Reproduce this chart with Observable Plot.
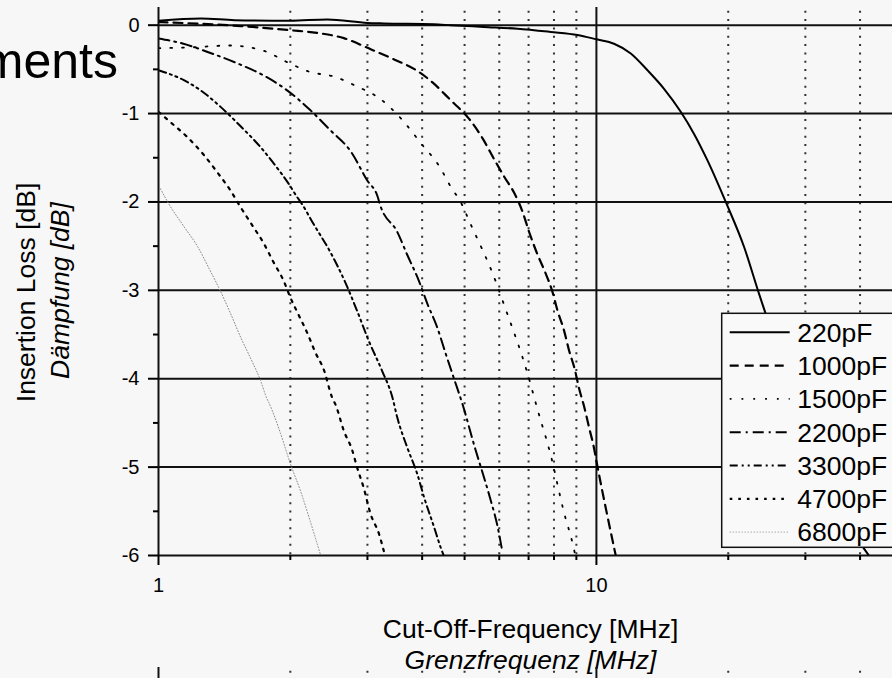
<!DOCTYPE html>
<html><head><meta charset="utf-8">
<script src="https://cdn.jsdelivr.net/npm/d3@7"></script>
<script src="https://cdn.jsdelivr.net/npm/@observablehq/plot@0.6"></script>
<style>
html,body{margin:0;padding:0;background:#f7f7f7;overflow:hidden;width:892px;height:678px;}
#wrap{position:relative;width:892px;height:678px;overflow:hidden;}
</style></head><body><div id="wrap"></div>
<script>
const FONT = "'Liberation Sans', Arial, Helvetica, sans-serif";

// ---- data ----
const seriesNames = ["220pF", "1000pF", "1500pF", "2200pF", "3300pF", "4700pF", "6800pF"];

const freq220 = [1.0, 1.25, 1.49, 2.0, 2.43, 3.0, 3.27, 4.25, 4.65, 5.53, 6.6, 7.86, 9.05, 10.0, 10.97, 11.98, 13.08, 14.27, 15.58, 16.71, 17.93, 19.74, 21.74, 23.52, 40.8, 41.9];
const loss220 = [0.05, 0.075, 0.057, 0.05, 0.065, 0.026, 0.02, 0.01, 0.0, -0.02, -0.04, -0.076, -0.11, -0.16, -0.21, -0.32, -0.51, -0.72, -0.98, -1.23, -1.53, -2.0, -2.51, -3.04, -5.92, -6.0];

const freq1000 = [1.0, 1.54, 2.0, 2.30, 2.65, 3.06, 3.46, 3.88, 4.23, 4.65, 5.12, 5.51, 5.83, 6.15, 6.51, 6.78, 7.02, 7.33, 7.66, 7.94, 8.15, 8.43, 8.66, 8.92, 9.13, 9.38, 9.62, 9.87, 10.0, 11.07];
const loss1000 = [0.035, -0.01, -0.057, -0.087, -0.147, -0.275, -0.39, -0.51, -0.65, -0.85, -1.06, -1.29, -1.51, -1.71, -1.91, -2.11, -2.34, -2.59, -2.81, -3.02, -3.23, -3.45, -3.68, -3.89, -4.11, -4.32, -4.55, -4.78, -4.93, -6.0];

const freq1500 = [1.0, 1.20, 1.45, 1.74, 1.97, 2.22, 2.51, 2.83, 3.20, 3.60, 3.98, 4.37, 4.69, 4.86, 5.16, 5.89, 6.15, 6.96, 7.33, 7.86, 8.43, 8.86, 8.95];
const loss1500 = [-0.26, -0.25, -0.23, -0.29, -0.42, -0.53, -0.58, -0.69, -0.83, -1.07, -1.34, -1.59, -1.86, -1.97, -2.25, -2.90, -3.16, -3.94, -4.34, -4.86, -5.51, -5.90, -6.0];

const freq2200 = [1.0, 1.14, 1.29, 1.51, 1.74, 1.97, 2.22, 2.47, 2.75, 3.0, 3.16, 3.21, 3.51, 3.70, 3.93, 4.11, 4.33, 4.53, 4.73, 4.94, 5.30, 5.54, 5.74, 5.94, 6.10];
const loss2200 = [-0.15, -0.21, -0.30, -0.43, -0.57, -0.74, -0.96, -1.19, -1.43, -1.76, -1.93, -2.04, -2.34, -2.60, -2.89, -3.15, -3.42, -3.72, -4.0, -4.28, -4.81, -5.12, -5.38, -5.66, -5.96];

const freq3300 = [1.0, 1.14, 1.25, 1.39, 1.53, 1.71, 1.85, 1.98, 2.07, 2.13, 2.26, 2.47, 2.67, 2.84, 3.02, 3.24, 3.42, 3.51, 3.70, 3.90, 4.04, 4.26, 4.41, 4.48];
const loss3300 = [-0.51, -0.62, -0.74, -0.93, -1.13, -1.38, -1.59, -1.79, -1.94, -2.03, -2.25, -2.57, -2.91, -3.23, -3.57, -3.91, -4.21, -4.44, -4.78, -5.08, -5.34, -5.68, -5.91, -6.0];

const freq4700 = [1.0, 1.055, 1.16, 1.27, 1.36, 1.46, 1.54, 1.64, 1.74, 1.83, 1.93, 2.0, 2.09, 2.19, 2.28, 2.39, 2.49, 2.54, 2.65, 2.77, 2.84, 2.94, 3.05, 3.19, 3.27];
const loss4700 = [-0.98, -1.08, -1.26, -1.47, -1.66, -1.87, -2.06, -2.27, -2.47, -2.68, -2.89, -3.08, -3.28, -3.49, -3.70, -3.91, -4.21, -4.30, -4.59, -4.81, -5.0, -5.23, -5.53, -5.76, -5.95];

const freq6800 = [1.01, 1.055, 1.14, 1.23, 1.31, 1.37, 1.46, 1.54, 1.62, 1.71, 1.77, 1.79, 1.90, 2.0, 2.11, 2.22, 2.34];
const loss6800 = [-1.85, -2.02, -2.27, -2.51, -2.77, -2.96, -3.26, -3.53, -3.76, -4.02, -4.23, -4.28, -4.62, -4.96, -5.27, -5.61, -5.98];

const yMajor = [0, -1, -2, -3, -4, -5, -6];
const yTickLabels = ["0", "-1", "-2", "-3", "-4", "-5", "-6"];
const yMinor = [-0.5, -1.5, -2.5, -3.5, -4.5, -5.5];
const xMajor = [1, 10];
const xTickLabels = ["1", "10"];
const xMinor = [2, 3, 4, 5, 6, 7, 8, 9, 20, 30, 40, 50];
const xTitle = "Cut-Off-Frequency [MHz]";
const xTitleDe = "Grenzfrequenz [MHz]";
const yTitle = "Insertion Loss [dB]";
const yTitleDe = "Dämpfung [dB]";
const slideText = "ments";
const nextChartTicks = [0];
const nextChartLabels = ["0"];

// ---- styles (kept apart from data) ----
const lineStyle = {
  "220pF":  {dash: undefined,        width: 2,   color: "#000"},
  "1000pF": {dash: "9,6",            width: 2.2, color: "#000"},
  "1500pF": {dash: "1.8,10",         width: 1.8, color: "#000"},
  "2200pF": {dash: "11,5,2,5",       width: 2,   color: "#000"},
  "3300pF": {dash: "8,4,2,4,2,4",    width: 2,   color: "#000"},
  "4700pF": {dash: "2.6,6",          width: 2.2, color: "#000"},
  "6800pF": {dash: "1,2",            width: 1,   color: "#8a8a8a"}
};

const seriesData = [
  [freq220, loss220], [freq1000, loss1000], [freq1500, loss1500], [freq2200, loss2200],
  [freq3300, loss3300], [freq4700, loss4700], [freq6800, loss6800]
];
const rows = seriesNames.flatMap((name, k) =>
  seriesData[k][0].map((f, i) => ({series: name, f, db: seriesData[k][1][i]})));

const lineMarks = seriesNames.map(name => {
  const st = lineStyle[name];
  return Plot.line(rows.filter(r => r.series === name), {
    x: "f", y: "db", stroke: st.color, strokeWidth: st.width,
    strokeDasharray: st.dash, curve: "monotone-x", clip: true
  });
});

const W = 920, H = 678, ML = 158, MR = 18, MT = 7, MB = 123;

const plot = Plot.plot({
  width: W, height: H,
  marginLeft: ML, marginRight: MR, marginTop: MT, marginBottom: MB,
  x: {type: "log", domain: [1, 50]},
  y: {domain: [-6, 0.2]},
  style: {background: "transparent", maxWidth: "none", fontFamily: FONT, color: "#000", overflow: "visible"},
  marks: [
    Plot.ruleX(xMinor, {stroke: "#333", strokeWidth: 2, strokeDasharray: "2,6.33", strokeDashoffset: 4.6}),
    Plot.ruleX([10], {stroke: "#111", strokeWidth: 2}),
    Plot.ruleY(yMajor, {stroke: "#111", strokeWidth: 2}),
    ...lineMarks,
    Plot.ruleX([1], {stroke: "#111", strokeWidth: 2}),
    Plot.axisY({ticks: yMajor, tickSize: 10, tickPadding: 9, tickFormat: d => yTickLabels[yMajor.indexOf(d)], fontSize: 20, strokeWidth: 2, label: null}),
    Plot.axisY({ticks: yMinor, tickSize: 5, tickFormat: () => "", strokeWidth: 2, label: null}),
    Plot.axisX({ticks: xMajor, tickSize: 10, tickPadding: 12, tickFormat: d => xTickLabels[xMajor.indexOf(d)], fontSize: 20, strokeWidth: 2, label: null}),
    Plot.axisX({ticks: xMinor, tickSize: 5, tickFormat: () => "", strokeWidth: 2, label: null}),
    Plot.text([xTitle], {text: d => d, frameAnchor: "bottom", textAnchor: "middle", lineAnchor: "bottom", dy: 82, fontSize: 26.5, fill: "#000"}),
    Plot.text([xTitleDe], {text: d => d, frameAnchor: "bottom", textAnchor: "middle", lineAnchor: "bottom", dy: 113, fontSize: 26.5, fontStyle: "italic", fill: "#000"}),
    Plot.text([yTitle], {text: d => d, frameAnchor: "left", textAnchor: "middle", lineAnchor: "bottom", rotate: -90, dx: -124, dy: 11, fontSize: 26.5, fill: "#000"}),
    Plot.text([yTitleDe], {text: d => d, frameAnchor: "left", textAnchor: "middle", lineAnchor: "bottom", rotate: -90, dx: -90, dy: 9, fontSize: 26.5, fontStyle: "italic", fill: "#000"})
  ]
});
plot.style.position = "absolute";
plot.style.left = "0px";
plot.style.top = "0px";

// legend inside the plot (positioned in pixels)
const svg = d3.select(plot);
const lg = svg.append("g").attr("transform", "translate(721.7,313.3)");
lg.append("rect").attr("width", 220).attr("height", 234)
  .attr("fill", "#f9f9f9").attr("stroke", "#111").attr("stroke-width", 1.5);
seriesNames.forEach((name, i) => {
  const st = lineStyle[name];
  const yy = 19 + 33.3 * i;
  lg.append("line").attr("x1", 8).attr("x2", 68).attr("y1", yy).attr("y2", yy)
    .attr("stroke", st.color).attr("stroke-width", st.width)
    .attr("stroke-dasharray", st.dash || null);
  lg.append("text").attr("x", 75.6).attr("y", yy + 9.4)
    .attr("text-anchor", "start")
    .attr("font-size", 26.5).attr("fill", "#000").text(name);
});

// next chart fragment at the bottom of the slide
const plot2 = Plot.plot({
  width: W, height: 60,
  marginLeft: ML, marginRight: MR, marginTop: 7, marginBottom: 0,
  x: {type: "log", domain: [1, 50], axis: null},
  y: {domain: [-0.4, 0.2]},
  style: {background: "transparent", maxWidth: "none", fontFamily: FONT, color: "#000", overflow: "visible"},
  marks: [
    Plot.ruleX(xMinor, {stroke: "#333", strokeWidth: 2, strokeDasharray: "2,6.33", strokeDashoffset: 4.6}),
    Plot.ruleX([10], {stroke: "#111", strokeWidth: 2}),
    Plot.ruleY(nextChartTicks, {stroke: "#111", strokeWidth: 2}),
    Plot.ruleX([1], {stroke: "#111", strokeWidth: 2}),
    Plot.axisY({ticks: nextChartTicks, tickSize: 10, tickPadding: 9, tickFormat: d => nextChartLabels[nextChartTicks.indexOf(d)], fontSize: 20, strokeWidth: 2, label: null})
  ]
});
plot2.style.position = "absolute";
plot2.style.left = "0px";
plot2.style.top = "660px";

// slide heading fragment
const head = d3.create("svg").attr("width", 200).attr("height", 100)
  .style("position", "absolute").style("left", "0px").style("top", "0px");
head.append("text").attr("x", 118).attr("y", 78).attr("text-anchor", "end")
  .attr("font-family", FONT).attr("font-size", 50).attr("fill", "#000").text(slideText);

const wrap = document.getElementById("wrap");
wrap.appendChild(head.node());
wrap.appendChild(plot);
wrap.appendChild(plot2);
</script></body></html>
